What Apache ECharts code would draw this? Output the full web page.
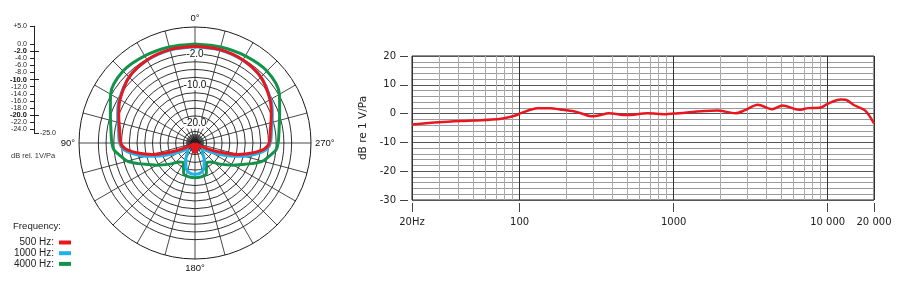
<!DOCTYPE html>
<html>
<head>
<meta charset="utf-8">
<script src="https://cdn.jsdelivr.net/npm/echarts@6/dist/echarts.min.js"></script>
<style>
  html, body { margin: 0; padding: 0; background: #fff; }
  #chart { width: 910px; height: 290px; }
</style>
</head>
<body>
<div id="chart"></div>
<script>
// polar pattern (dB per angle, 0° at top, counter-clockwise)
const angles = [0, 15, 30, 45, 60, 70, 80, 90, 95, 100, 105, 110, 115, 120, 130, 140, 150, 160, 170, 180,
  190, 200, 210, 220, 230, 240, 245, 250, 255, 260, 265, 270, 280, 290, 300, 315, 330, 345, 360]
const pattern500 = [0.0, 0.0, -0.2, -0.9, -2.6, -4.0, -5.2, -5.8, -7.0, -10.0, -13.5, -18.0, -21.5, -23.5, -24.6, -24.8, -24.6, -23.8, -22.9, -22.5,
  -22.9, -23.8, -24.6, -24.8, -24.6, -23.5, -21.5, -18.0, -13.5, -10.0, -7.0, -5.8, -5.2, -4.0, -2.6, -0.9, -0.2, 0.0, 0.0]
const pattern1000 = [-0.1, -0.1, -0.3, -0.9, -2.4, -3.7, -4.9, -5.5, -6.4, -8.8, -11.8, -15.2, -18.2, -20.3, -22.3, -22.0, -20.3, -18.2, -17.1, -16.9,
  -17.1, -18.2, -20.3, -22.0, -22.3, -20.3, -18.2, -15.2, -11.8, -8.8, -6.4, -5.5, -4.9, -3.7, -2.4, -0.9, -0.3, -0.1, -0.1]
const pattern4000 = [0.6, 0.7, 1.0, 1.3, 0.2, -1.7, -2.9, -3.5, -4.0, -5.5, -6.9, -9.4, -11.8, -13.5, -16.5, -18.6, -19.0, -16.5, -16.1, -16.0,
  -16.1, -16.5, -19.0, -18.6, -16.5, -13.5, -11.8, -9.4, -6.9, -5.5, -4.0, -3.5, -2.9, -1.7, 0.2, 1.3, 1.0, 0.7, 0.6]

// polar grid
const ringValues = [-24, -22, -20, -18, -16, -14, -12, -10, -8, -6, -4, -2, 0]
const ringLabelValues = [-2, -10, -20]
const angleLabelValues = [0, 90, 180, 270]
const angleLabelTexts = ['0°', '90°', '180°', '270°']

// scale bar at the left
const scaleLabelValues = [5, 0, -2, -4, -6, -8, -10, -12, -14, -16, -18, -20, -22, -24]
const scaleBoldValues = [-2, -10, -20]

// frequency response
const freqs = [20, 30, 50, 74, 95, 100, 131, 157, 191, 234, 293, 332, 377, 498, 675, 890, 1000, 1920, 2520, 2880,
  3520, 4350, 5090, 6540, 7460, 8910, 10000, 12160, 13100, 14900, 17500, 20000]
const response = [-3.8, -3.0, -2.4, -1.9, -0.6, 0.0, 1.9, 1.9, 1.3, 0.6, -0.9, -0.6, 0.1, -0.5, 0.1, -0.2, 0.0, 1.1, 0.1, 1.1,
  3.1, 1.5, 2.8, 1.3, 1.9, 2.0, 3.4, 4.9, 4.8, 2.9, 1.1, -3.4]
const freqTickValues = [20, 100, 1000, 10000, 20000]
const freqTickLabels = ['20Hz', '100', '1000', '10 000', '20 000']
const freqMinorLines = [30, 40, 50, 60, 70, 80, 90, 200, 300, 400, 500, 600, 700, 800, 900,
  2000, 3000, 4000, 5000, 6000, 7000, 8000, 9000]

const chart = echarts.init(document.getElementById('chart'))

// ring colours: one entry per radius tick (-25..5, step 1)
let ringColors = []
for (let v = -25; v <= 5; v++) {
  ringColors.push(ringValues.indexOf(v) >= 0 ? '#1a1a1a' : 'rgba(0,0,0,0)')
}

let polarSeries = function (name, values, color) {
  return {
    name: name,
    type: 'line',
    coordinateSystem: 'polar',
    polarIndex: 0,
    data: angles.map((a, i) => [values[i], a]),
    showSymbol: false,
    smooth: 0.3,
    color: color,
    lineStyle: { width: 3, color: color },
    z: 5
  }
}

const option = {
  animation: false,
  textStyle: { fontFamily: 'Liberation Sans' },
  polar: [
    { center: [195, 143], radius: 116 },
    { center: [195, 143], radius: 9 }
  ],
  angleAxis: [{
    polarIndex: 0,
    type: 'value',
    min: 0,
    max: 360,
    interval: 15,
    startAngle: 90,
    clockwise: false,
    axisLine: { lineStyle: { color: '#1a1a1a', width: 1 } },
    axisTick: { show: false },
    axisLabel: {
      margin: 4,
      fontSize: 9.5,
      color: '#111',
      formatter: function (v) {
        let i = angleLabelValues.indexOf(v)
        return i >= 0 ? angleLabelTexts[i] : ''
      }
    },
    splitLine: { lineStyle: { color: '#1a1a1a', width: 0.8 } }
  }, {
    polarIndex: 1,
    type: 'value',
    min: 0,
    max: 360,
    interval: 5,
    startAngle: 90,
    clockwise: false,
    axisLine: { show: false },
    axisTick: { show: false },
    axisLabel: { show: false },
    splitLine: { lineStyle: { color: '#222', width: 0.6 } }
  }],
  radiusAxis: [{
    polarIndex: 0,
    type: 'value',
    min: -25,
    max: 5,
    interval: 1,
    axisLine: { show: false },
    axisTick: { show: false },
    axisLabel: {
      customValues: ringLabelValues,
      formatter: v => v.toFixed(1),
      margin: 0,
      align: 'center',
      verticalAlign: 'middle',
      fontSize: 10,
      color: '#111',
      backgroundColor: '#fff'
    },
    splitLine: { show: true, lineStyle: { color: ringColors, width: 0.9 } },
    z: 3
  }, {
    polarIndex: 1,
    type: 'value',
    min: 0,
    max: 1,
    axisLine: { show: false },
    axisTick: { show: false },
    axisLabel: { show: false },
    splitLine: { show: false }
  }],
  grid: [
    { left: 34, top: 26.3, width: 1, height: 106.5, show: false, outerBoundsMode: 'none' },
    { left: 412, top: 56, width: 462, height: 144, show: true, borderColor: '#222', borderWidth: 1, outerBoundsMode: 'none' }
  ],
  xAxis: [{
    gridIndex: 0,
    type: 'value',
    show: false
  }, {
    gridIndex: 1,
    type: 'log',
    logBase: 10,
    min: 20,
    max: 20000,
    offset: 3,
    axisLine: { show: true, onZero: false, lineStyle: { color: 'rgba(0,0,0,0)' } },
    axisTick: { show: true, customValues: freqTickValues, length: 9, lineStyle: { color: '#444', width: 1 } },
    axisLabel: {
      margin: 14,
      fontSize: 10,
      fontFamily: 'DejaVu Sans',
      color: '#222',
      formatter: function (v) {
        let i = freqTickValues.indexOf(Math.round(v))
        return i >= 0 ? freqTickLabels[i] : ''
      }
    },
    splitLine: { show: true, lineStyle: { color: '#333', width: 1 } }
  }],
  yAxis: [{
    gridIndex: 0,
    type: 'value',
    position: 'left',
    min: -25,
    max: 5,
    axisLine: { show: true, lineStyle: { color: '#222', width: 1 } },
    axisTick: { show: true, customValues: scaleLabelValues, length: 4, lineStyle: { color: '#222' } },
    axisLabel: {
      customValues: scaleLabelValues,
      margin: 7,
      fontSize: 7,
      color: '#222',
      formatter: function (v) {
        let s = (v > 0 ? '+' : '') + v.toFixed(1)
        return scaleBoldValues.indexOf(v) >= 0 ? '{b|' + s + '}' : s
      },
      rich: { b: { fontSize: 7.5, fontWeight: 'bold', color: '#111' } }
    },
    splitLine: { show: false }
  }, {
    gridIndex: 0,
    type: 'value',
    position: 'left',
    min: -25,
    max: 5,
    axisLine: { show: false },
    axisTick: { show: true, inside: true, customValues: [-2, -10, -20, -25], length: 5, lineStyle: { color: '#222' } },
    axisLabel: {
      inside: true,
      customValues: [-25],
      formatter: v => v.toFixed(1),
      margin: 6,
      fontSize: 7,
      color: '#222'
    },
    splitLine: { show: false }
  }, {
    gridIndex: 1,
    type: 'value',
    min: -30,
    max: 20,
    interval: 10,
    offset: 4,
    name: 'dB re 1 V/Pa',
    nameLocation: 'middle',
    nameRotate: 90,
    nameGap: 31,
    nameTextStyle: { fontSize: 10.5, fontFamily: 'DejaVu Sans', color: '#222' },
    axisLine: { show: false },
    axisTick: { show: true, length: 8, lineStyle: { color: '#444' } },
    axisLabel: { margin: 12, fontSize: 10, fontFamily: 'DejaVu Sans', color: '#222' },
    splitLine: { show: true, lineStyle: { color: '#555', width: 1 } },
    minorTick: { show: false, splitNumber: 5 },
    minorSplitLine: { show: true, lineStyle: { color: '#9a9a9a', width: 1 } }
  }],
  legend: {
    orient: 'vertical',
    left: 14,
    top: 237.5,
    align: 'right',
    padding: 0,
    icon: 'rect',
    itemWidth: 12,
    itemHeight: 4,
    itemGap: 0.7,
    textStyle: { fontSize: 10, color: '#222', lineHeight: 10 },
    data: ['500 Hz:', '1000 Hz:', '4000 Hz:']
  },
  graphic: [{
    type: 'text',
    left: 13,
    top: 221,
    style: { text: 'Frequency:', font: '9.6px "Liberation Sans"', fill: '#222' }
  }, {
    type: 'text',
    left: 11,
    top: 152,
    style: { text: 'dB rel. 1V/Pa', font: '7.5px "Liberation Sans"', fill: '#333' }
  }],
  series: [
    polarSeries('4000 Hz:', pattern4000, '#13924a'),
    polarSeries('1000 Hz:', pattern1000, '#1fb3ec'),
    polarSeries('500 Hz:', pattern500, '#e8161f'),
    {
      name: 'grid',
      type: 'line',
      xAxisIndex: 1,
      yAxisIndex: 2,
      data: [],
      silent: true,
      z: 1,
      markLine: {
        silent: true,
        symbol: 'none',
        label: { show: false },
        lineStyle: { color: '#ababab', width: 1, type: 'solid' },
        data: freqMinorLines.map(f => ({ xAxis: f }))
      }
    },
    {
      name: 'response',
      type: 'line',
      xAxisIndex: 1,
      yAxisIndex: 2,
      data: freqs.map((f, i) => [f, response[i]]),
      showSymbol: false,
      smooth: 0.3,
      lineStyle: { width: 2.5, color: '#e8161f' },
      color: '#e8161f',
      z: 5
    }
  ]
}

chart.setOption(option)
</script>
</body>
</html>
